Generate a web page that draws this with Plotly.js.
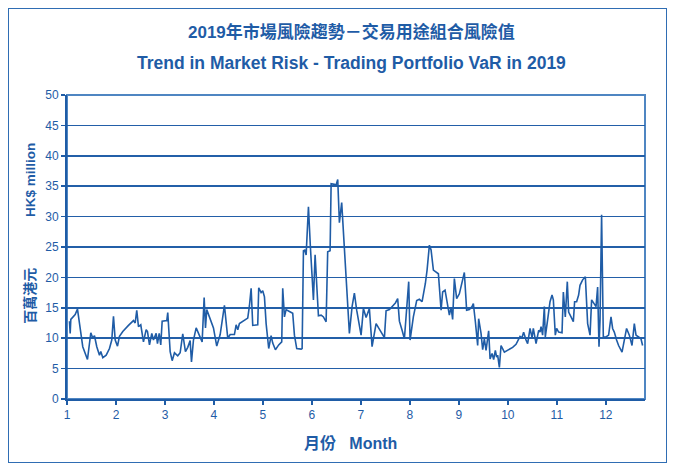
<!DOCTYPE html>
<html>
<head>
<meta charset="utf-8">
<script src="https://cdn.plot.ly/plotly-3.0.1.min.js"></script>
<style>
  html, body { margin: 0; padding: 0; background: #ffffff; }
  #wrap { position: relative; width: 673px; height: 467px; }
  #frame { position: absolute; left: 8px; top: 8px; width: 659px; height: 455px;
           border: 1px solid #2f6db3; box-sizing: border-box; pointer-events: none; }
</style>
</head>
<body>
<div id="wrap">
  <div id="chart" style="width:673px;height:467px;"></div>
  <div id="frame"></div>
</div>
<script>
/* Trading portfolio VaR, 2019 (HK$ million) */

const TICK_MONTHS = [1, 2, 3, 4, 5, 6, 7, 8, 9, 10, 11, 12];

const dayPos = [
  1.05, 1.065, 1.078, 1.167, 1.214, 1.269, 1.322, 1.418, 1.486, 1.527,
  1.561, 1.608, 1.663, 1.690, 1.731, 1.800, 1.867, 1.914, 1.949, 1.984,
  2.031, 2.071, 2.139, 2.255, 2.357, 2.392, 2.424, 2.459, 2.506, 2.561,
  2.616, 2.643, 2.684, 2.731, 2.765, 2.820, 2.847, 2.882, 2.914, 2.943,
  3.037, 3.057, 3.106, 3.147, 3.194, 3.261, 3.310, 3.363, 3.418, 3.465,
  3.514, 3.541, 3.582, 3.637, 3.690, 3.759, 3.800, 3.827, 3.853, 3.908,
  3.990, 4.057, 4.127, 4.214, 4.282, 4.331, 4.418, 4.453, 4.486, 4.520,
  4.622, 4.690, 4.724, 4.759, 4.792, 4.894, 4.914, 4.963, 4.996, 5.031,
  5.065, 5.118, 5.167, 5.200, 5.255, 5.322, 5.384, 5.404, 5.439, 5.473,
  5.541, 5.608, 5.643, 5.690, 5.780, 5.800, 5.827, 5.853, 5.882, 5.929,
  5.969, 6.031, 6.065, 6.098, 6.133, 6.188, 6.235, 6.290, 6.322, 6.371,
  6.392, 6.459, 6.494, 6.527, 6.561, 6.608, 6.663, 6.710, 6.765, 6.820,
  6.867, 6.914, 6.955, 7.004, 7.051, 7.106, 7.173, 7.228, 7.310, 7.392,
  7.480, 7.514, 7.582, 7.649, 7.704, 7.751, 7.786, 7.841, 7.888, 7.976,
  8.004, 8.071, 8.139, 8.194, 8.249, 8.316, 8.351, 8.398, 8.433, 8.480,
  8.535, 8.582, 8.637, 8.669, 8.718, 8.771, 8.806, 8.841, 8.873, 8.908,
  8.955, 9.010, 9.065, 9.112, 9.159, 9.214, 9.269, 9.296, 9.337, 9.384,
  9.404, 9.453, 9.486, 9.520, 9.555, 9.608, 9.637, 9.678, 9.710, 9.745,
  9.771, 9.792, 9.827, 9.861, 9.929, 9.996, 10.045, 10.098, 10.167, 10.220,
  10.249, 10.290, 10.322, 10.371, 10.404, 10.453, 10.494, 10.520, 10.576, 10.629,
  10.657, 10.678, 10.710, 10.745, 10.765, 10.812, 10.861, 10.902, 10.929, 10.969,
  10.996, 11.037, 11.106, 11.133, 11.173, 11.214, 11.241, 11.290, 11.337, 11.363,
  11.404, 11.445, 11.473, 11.527, 11.582, 11.629, 11.678, 11.710, 11.751, 11.800,
  11.833, 11.861, 11.882, 11.914, 11.949, 12.004, 12.057, 12.106, 12.139, 12.173,
  12.220, 12.261, 12.331, 12.378, 12.424, 12.480, 12.535, 12.582, 12.616, 12.669,
  12.718, 12.751
];

const varValues = [
  12.8, 10.8, 13.1, 13.9, 14.8, 11.9, 8.6, 6.5, 10.9, 10.0,
  10.4, 8.6, 7.2, 7.8, 6.8, 7.2, 8.3, 9.7, 13.6, 9.7,
  8.7, 10.3, 11.1, 12.1, 12.9, 12.5, 14.6, 11.9, 12.2, 9.4,
  11.4, 11.1, 8.9, 10.8, 9.7, 10.8, 9.1, 10.8, 8.9, 12.8,
  12.9, 14.2, 7.8, 6.3, 7.6, 7.1, 7.6, 10.7, 7.8, 8.5,
  9.6, 6.1, 9.7, 11.7, 10.6, 9.4, 16.7, 11.7, 14.7, 13.6,
  11.7, 8.7, 10.6, 15.4, 10.0, 10.6, 10.6, 12.2, 11.4, 12.4,
  12.9, 13.3, 15.3, 18.2, 12.1, 12.2, 18.3, 17.5, 17.8, 16.8,
  12.4, 8.3, 10.4, 9.2, 8.1, 8.9, 9.4, 18.2, 13.5, 14.7,
  14.4, 14.1, 10.5, 8.3, 8.2, 8.3, 24.4, 24.5, 23.7, 31.6,
  25.0, 16.3, 23.7, 19.6, 13.7, 13.8, 13.5, 12.7, 24.2, 24.4,
  35.4, 35.3, 35.2, 36.1, 29.0, 32.3, 24.8, 19.6, 10.8, 15.2,
  17.4, 14.6, 12.4, 10.5, 14.9, 13.4, 14.9, 8.6, 12.4, 11.3,
  10.1, 14.5, 14.7, 15.3, 15.8, 16.5, 12.8, 11.3, 9.9, 19.3,
  9.7, 13.5, 16.2, 16.4, 16.0, 19.0, 21.2, 25.3, 24.5, 21.2,
  20.9, 20.6, 14.6, 17.6, 17.9, 14.9, 13.8, 15.1, 13.1, 19.8,
  16.5, 17.3, 19.0, 20.8, 14.6, 14.7, 15.2, 15.7, 12.7, 8.8,
  13.2, 10.8, 8.1, 9.9, 8.0, 11.2, 6.6, 7.5, 6.5, 8.0,
  6.9, 7.2, 5.2, 8.8, 7.7, 8.0, 8.3, 8.5, 9.0, 9.7,
  10.3, 10.1, 11.0, 9.7, 9.1, 11.6, 10.1, 11.6, 9.1, 11.3,
  11.0, 11.9, 10.5, 15.2, 10.2, 13.0, 16.0, 17.1, 16.3, 10.5,
  11.6, 11.0, 10.9, 17.6, 13.5, 19.3, 14.3, 13.5, 12.7, 16.0,
  16.0, 17.1, 18.7, 19.6, 20.1, 12.4, 10.5, 16.3, 15.7, 15.2,
  18.4, 8.6, 13.0, 30.3, 10.2, 10.2, 10.5, 13.5, 11.6, 11.0,
  9.7, 8.8, 7.7, 9.7, 11.6, 10.5, 8.8, 12.4, 10.5, 10.2,
  9.9, 8.8
];

const titleZh = '2019年市場風險趨勢－交易用途組合風險值';
const titleEn = 'Trend in Market Risk - Trading Portfolio VaR in 2019';
const yTitleZh = '百萬港元';
const yTitleEn = 'HK$ million';
const xTitle = '月份\u00a0\u00a0\u00a0Month';

const BLUE = '#1f5ca6';
const GRID = '#235fa8';
const FONT = 'Liberation Sans, Arial, "Noto Sans CJK TC", sans-serif';

const trace = {
  x: dayPos, y: varValues,
  type: 'scatter', mode: 'lines',
  line: { color: '#1f5ca6', width: 1.6 },
  hoverinfo: 'x+y'
};

function label(text, opts) {
  return Object.assign({
    xref: 'paper', yref: 'paper', showarrow: false,
    xanchor: 'center', yanchor: 'middle',
    text: '<b>' + text + '</b>'
  }, opts);
}

const layout = {
  width: 673, height: 467,
  margin: { l: 67, r: 28, t: 95, b: 68 },
  paper_bgcolor: 'rgba(0,0,0,0)',
  plot_bgcolor: '#ffffff',
  showlegend: false,
  font: { family: FONT, color: BLUE, size: 12 },
  xaxis: {
    range: [1, 12.8],
    tickvals: TICK_MONTHS,
    ticktext: TICK_MONTHS.map(String),
    ticks: 'outside', ticklen: 4, tickwidth: 1.5, tickcolor: BLUE,
    showgrid: false, zeroline: false,
    showline: true, linecolor: BLUE, linewidth: 2,
    tickfont: { size: 12, color: BLUE }
  },
  yaxis: {
    range: [0, 50],
    dtick: 5,
    ticks: 'outside', ticklen: 4, tickwidth: 1.5, tickcolor: BLUE,
    showgrid: true, gridcolor: GRID, gridwidth: 1.5,
    zeroline: false,
    showline: true, linecolor: BLUE, linewidth: 2,
    tickfont: { size: 12, color: BLUE }
  },
  shapes: [
    { type: 'rect', xref: 'paper', yref: 'paper', x0: 0, x1: 1, y0: 0, y1: 1,
      line: { color: '#4f86c2', width: 2 }, layer: 'below' }
  ],
  annotations: [
    label(titleZh, { x: 0.492, y: 1, yshift: 63, font: { size: 17, color: BLUE, family: FONT } }),
    label(titleEn, { x: 0.492, y: 1, yshift: 32, font: { size: 17.5, color: BLUE, family: FONT } }),
    label(yTitleZh, { x: 0, xshift: -37, y: 0.34, textangle: -90,
                      font: { size: 14, color: BLUE, family: FONT } }),
    label(yTitleEn, { x: 0, xshift: -37, y: 0.72, textangle: -90,
                      font: { size: 13.5, color: BLUE, family: FONT } }),
    label(xTitle, { x: 0.49, y: 0, yshift: -44, font: { size: 16, color: BLUE, family: FONT } })
  ]
};

Plotly.newPlot('chart', [trace], layout, { displayModeBar: false, staticPlot: true });
</script>
</body>
</html>
